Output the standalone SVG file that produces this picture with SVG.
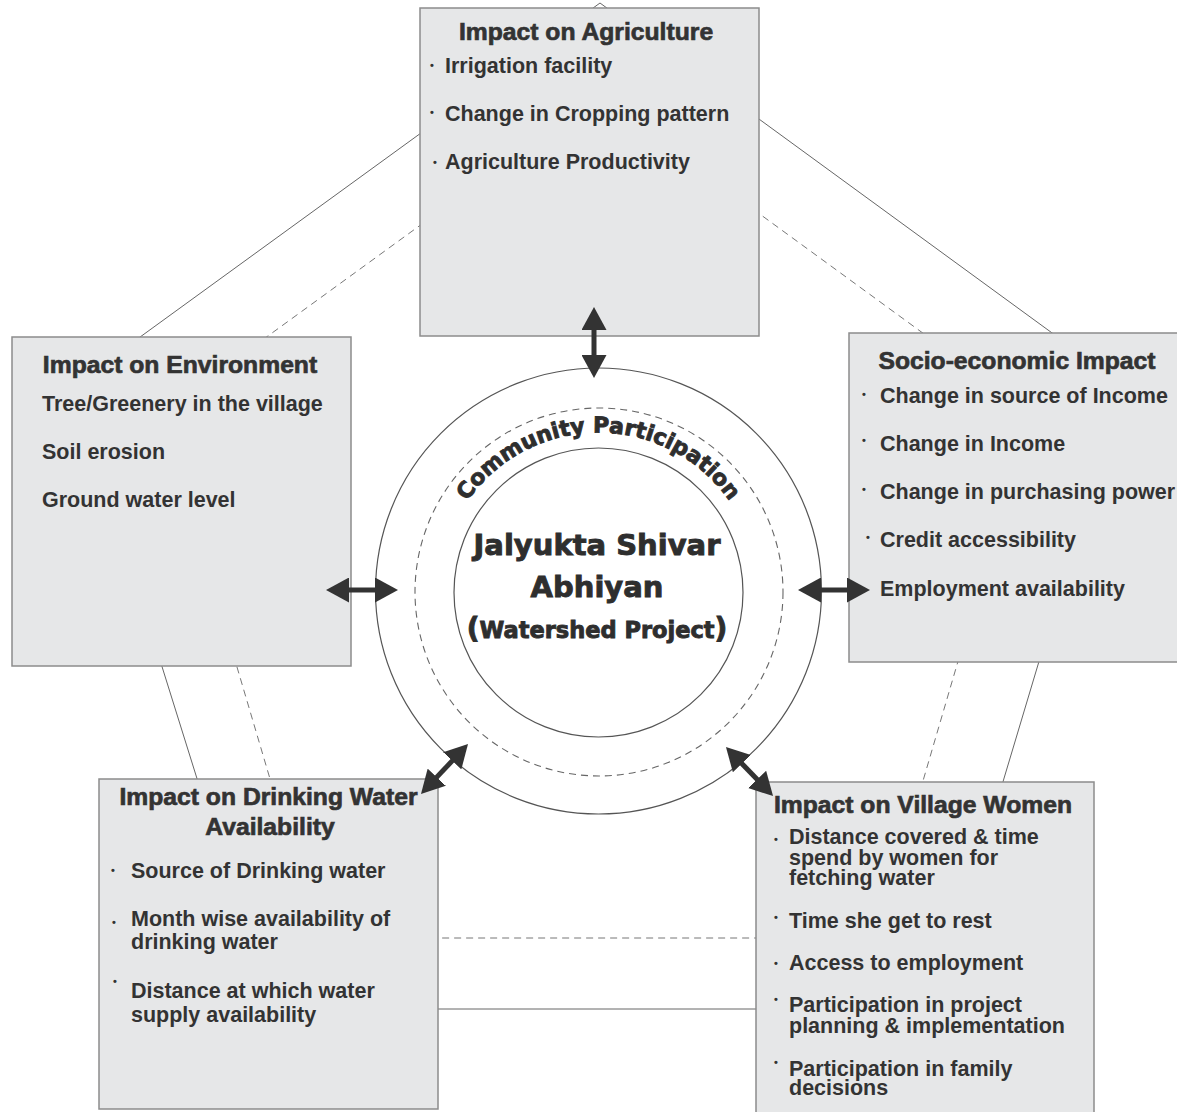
<svg xmlns="http://www.w3.org/2000/svg" width="1177" height="1112" viewBox="0 0 1177 1112">
<style>
.bg{fill:#ffffff}
.ln{fill:none;stroke:#666;stroke-width:1}
.dl{fill:none;stroke:#777;stroke-width:1;stroke-dasharray:7 5}
.cs{fill:none;stroke:#555;stroke-width:1.2}
.cd{fill:none;stroke:#666;stroke-width:1.1;stroke-dasharray:7 5}
.box{fill:#e6e7e8;stroke:#8c8c8c;stroke-width:1.5}
.t{font-family:"Liberation Sans",Arial,sans-serif;font-weight:bold;fill:#333;font-size:21.5px}
.h{font-size:24.7px;text-anchor:middle;stroke:#333;stroke-width:0.7}
.bu{font-family:"Liberation Sans",Arial,sans-serif;font-weight:bold;fill:#333;font-size:11px}
.c{font-family:"DejaVu Sans","Liberation Sans",sans-serif;font-weight:bold;fill:#2e2e2e;text-anchor:middle;stroke:#2e2e2e;stroke-width:0.9}
.arr{stroke:#333;stroke-width:5;fill:none;marker-start:url(#ah);marker-end:url(#ah)}
</style>
<defs>
<marker id="ah" viewBox="0 0 23 25" refX="3" refY="12.5" markerWidth="23" markerHeight="25" markerUnits="userSpaceOnUse" orient="auto-start-reverse">
<path d="M0,0 L23,12.5 L0,25 z" fill="#333"/>
</marker>
<path id="cpArc" d="M439,592 A159.5,159.5 0 0 1 758,592"/>
</defs>
<rect class="bg" x="0" y="0" width="1177" height="1112"/>

<g id="frame">
<polygon class="ln" points="600,3 1122,384 935,1009 269,1009 74,385"/>
<polygon class="dl" points="598,96 1031,412 877,938 317,938 162,413"/>
</g>

<g id="center">
<circle class="cs" cx="598.5" cy="591" r="223"/>
<circle class="cd" cx="599" cy="592" r="184"/>
<circle class="cs" cx="598.5" cy="592.5" r="144.5"/>
<text class="c" font-size="22"><textPath href="#cpArc" startOffset="50%">Community Participation</textPath></text>
<text class="c" x="597" y="555" font-size="29">Jalyukta Shivar</text>
<text class="c" x="597" y="597" font-size="29">Abhiyan</text>
<text class="c" x="597" y="638" font-size="22.5"><tspan font-size="28">(</tspan>Watershed Project<tspan font-size="28">)</tspan></text>
</g>

<g id="agriculture">
<rect class="box" x="420" y="8" width="339" height="328"/>
<text class="t h" x="586" y="40">Impact on Agriculture</text>
<text class="bu" x="430" y="69">•</text>
<text class="t" x="445" y="73">Irrigation facility</text>
<text class="bu" x="430" y="116">•</text>
<text class="t" x="445" y="121">Change in Cropping pattern</text>
<text class="bu" x="433" y="166">•</text>
<text class="t" x="445" y="169">Agriculture Productivity</text>
</g>

<g id="environment">
<rect class="box" x="12" y="337" width="339" height="329"/>
<text class="t h" x="180" y="373">Impact on Environment</text>
<text class="t" x="42" y="411">Tree/Greenery in the village</text>
<text class="t" x="42" y="459">Soil erosion</text>
<text class="t" x="42" y="507">Ground water level</text>
</g>

<g id="socioeconomic">
<rect class="box" x="849" y="333" width="340" height="329"/>
<text class="t h" x="1017" y="369">Socio-economic Impact</text>
<text class="bu" x="862" y="398">•</text>
<text class="t" x="880" y="403">Change in source of Income</text>
<text class="bu" x="862" y="444">•</text>
<text class="t" x="880" y="451">Change in Income</text>
<text class="bu" x="862" y="493">•</text>
<text class="t" x="880" y="499">Change in purchasing power</text>
<text class="bu" x="866" y="541">•</text>
<text class="t" x="880" y="547">Credit accessibility</text>
<text class="t" x="880" y="596">Employment availability</text>
</g>

<g id="drinking-water">
<rect class="box" x="99" y="779" width="339" height="330"/>
<text class="t h" x="268.5" y="805">Impact on Drinking Water</text>
<text class="t h" x="270" y="835">Availability</text>
<text class="bu" x="111" y="874">•</text>
<text class="t" x="131" y="878">Source of Drinking water</text>
<text class="bu" x="112" y="926">•</text>
<text class="t" x="131" y="926">Month wise availability of</text>
<text class="t" x="131" y="949">drinking water</text>
<text class="bu" x="113" y="985">•</text>
<text class="t" x="131" y="998">Distance at which water</text>
<text class="t" x="131" y="1022">supply availability</text>
</g>

<g id="village-women">
<rect class="box" x="756" y="782" width="338" height="340"/>
<text class="t h" x="923" y="813">Impact on Village Women</text>
<text class="bu" x="774" y="843">•</text>
<text class="t" x="789" y="844">Distance covered &amp; time</text>
<text class="t" x="789" y="865">spend by women for</text>
<text class="t" x="789" y="885">fetching water</text>
<text class="bu" x="774" y="921">•</text>
<text class="t" x="789" y="928">Time she get to rest</text>
<text class="bu" x="774" y="967">•</text>
<text class="t" x="789" y="970">Access to employment</text>
<text class="bu" x="774" y="1003">•</text>
<text class="t" x="789" y="1012">Participation in project</text>
<text class="t" x="789" y="1033">planning &amp; implementation</text>
<text class="bu" x="774" y="1066">•</text>
<text class="t" x="789" y="1076">Participation in family</text>
<text class="t" x="789" y="1095">decisions</text>
</g>

<g id="connectors">
<line class="arr" x1="594" y1="327" x2="594" y2="358"/>
<line class="arr" x1="346" y1="590" x2="378" y2="590"/>
<line class="arr" x1="818" y1="590" x2="850" y2="590"/>
<line class="arr" x1="454.3" y1="758.6" x2="434.7" y2="779.4"/>
<line class="arr" x1="739.8" y1="761.4" x2="759.2" y2="781.6"/>
</g>
</svg>
